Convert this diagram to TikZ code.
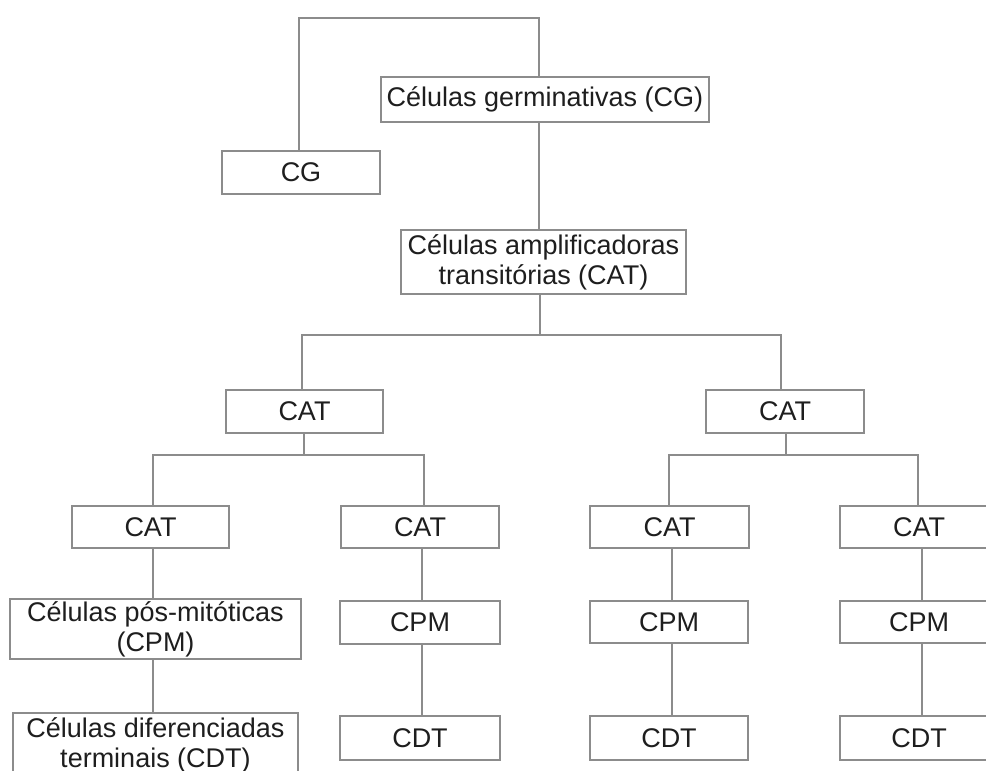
\documentclass[tikz,border=0pt]{standalone}
\usepackage{fontspec}
\setmainfont{Liberation Sans}
\definecolor{ln}{HTML}{8C8C8C}
\definecolor{tx}{HTML}{1E1E1E}
\begin{document}
\begin{tikzpicture}[x=1pt,y=-1pt,
  box/.style={draw=ln,line width=1.3pt,inner sep=0pt,align=center,text=tx,
    font=\fontsize{27}{30}\selectfont},
  conn/.style={draw=ln,line width=1.3pt}]
\useasboundingbox (0,0) rectangle (986,771);
\clip (0,0) rectangle (986,771);
\fill[white] (0,0) rectangle (986,771);
% nodes
\node[box,minimum width=328pt,minimum height=45pt] (cgg) at (545,99.5) {Células germinativas (CG)};
\node[box,minimum width=158pt,minimum height=43pt] (cg) at (301,172.5) {CG};
\node[box,minimum width=285pt,minimum height=64pt] (amp) at (543.5,262) {Células amplificadoras\\transitórias (CAT)};
\node[box,minimum width=157pt,minimum height=43pt] (catL) at (304.5,411.5) {CAT};
\node[box,minimum width=158pt,minimum height=43pt] (catR) at (785,411.5) {CAT};
\node[box,minimum width=157pt,minimum height=42pt] (cat1) at (150.5,527) {CAT};
\node[box,minimum width=158pt,minimum height=42pt] (cat2) at (420,527) {CAT};
\node[box,minimum width=159pt,minimum height=42pt] (cat3) at (669.5,527) {CAT};
\node[box,minimum width=158pt,minimum height=42pt] (cat4) at (919,527) {CAT};
\node[box,minimum width=291pt,minimum height=60pt] (cpm1) at (155.5,629) {Células pós-mitóticas\\(CPM)};
\node[box,minimum width=160pt,minimum height=43pt] (cpm2) at (420,622.5) {CPM};
\node[box,minimum width=158pt,minimum height=42pt] (cpm3) at (669,622) {CPM};
\node[box,minimum width=158pt,minimum height=42pt] (cpm4) at (919,622) {CPM};
\node[box,minimum width=285pt,minimum height=64pt] (cdt1) at (155.5,745) {Células diferenciadas\\terminais (CDT)};
\node[box,minimum width=160pt,minimum height=44pt] (cdt2) at (420,738) {CDT};
\node[box,minimum width=158pt,minimum height=44pt] (cdt3) at (669,738) {CDT};
\node[box,minimum width=158pt,minimum height=44pt] (cdt4) at (919,738) {CDT};
% junction coordinates
\coordinate (a1) at (299,18);
\coordinate (a2) at (539,18);
\coordinate (b0) at (540,335);
\coordinate (b1) at (302,335);
\coordinate (b2) at (781,335);
\coordinate (c0) at (304,455);
\coordinate (c1) at (153,455);
\coordinate (c2) at (424,455);
\coordinate (d0) at (786,455);
\coordinate (d1) at (669,455);
\coordinate (d2) at (918,455);
\coordinate (v2) at (422,0);
\coordinate (v3) at (672,0);
\coordinate (v4) at (922,0);
% connectors
\draw[conn] (cg.north -| a1) -- (a1) -- (a2) -- (cgg.north -| a2);
\draw[conn] (cgg.south -| a2) -- (amp.north -| a2);
\draw[conn] (amp.south -| b0) -- (b0);
\draw[conn] (catL.north -| b1) -- (b1) -- (b2) -- (catR.north -| b2);
\draw[conn] (catL.south -| c0) -- (c0);
\draw[conn] (cat1.north -| c1) -- (c1) -- (c2) -- (cat2.north -| c2);
\draw[conn] (catR.south -| d0) -- (d0);
\draw[conn] (cat3.north -| d1) -- (d1) -- (d2) -- (cat4.north -| d2);
\draw[conn] (cat1.south -| c1) -- (cpm1.north -| c1);
\draw[conn] (cpm1.south -| c1) -- (cdt1.north -| c1);
\draw[conn] (cat2.south -| v2) -- (cpm2.north -| v2);
\draw[conn] (cpm2.south -| v2) -- (cdt2.north -| v2);
\draw[conn] (cat3.south -| v3) -- (cpm3.north -| v3);
\draw[conn] (cpm3.south -| v3) -- (cdt3.north -| v3);
\draw[conn] (cat4.south -| v4) -- (cpm4.north -| v4);
\draw[conn] (cpm4.south -| v4) -- (cdt4.north -| v4);
\end{tikzpicture}
\end{document}
